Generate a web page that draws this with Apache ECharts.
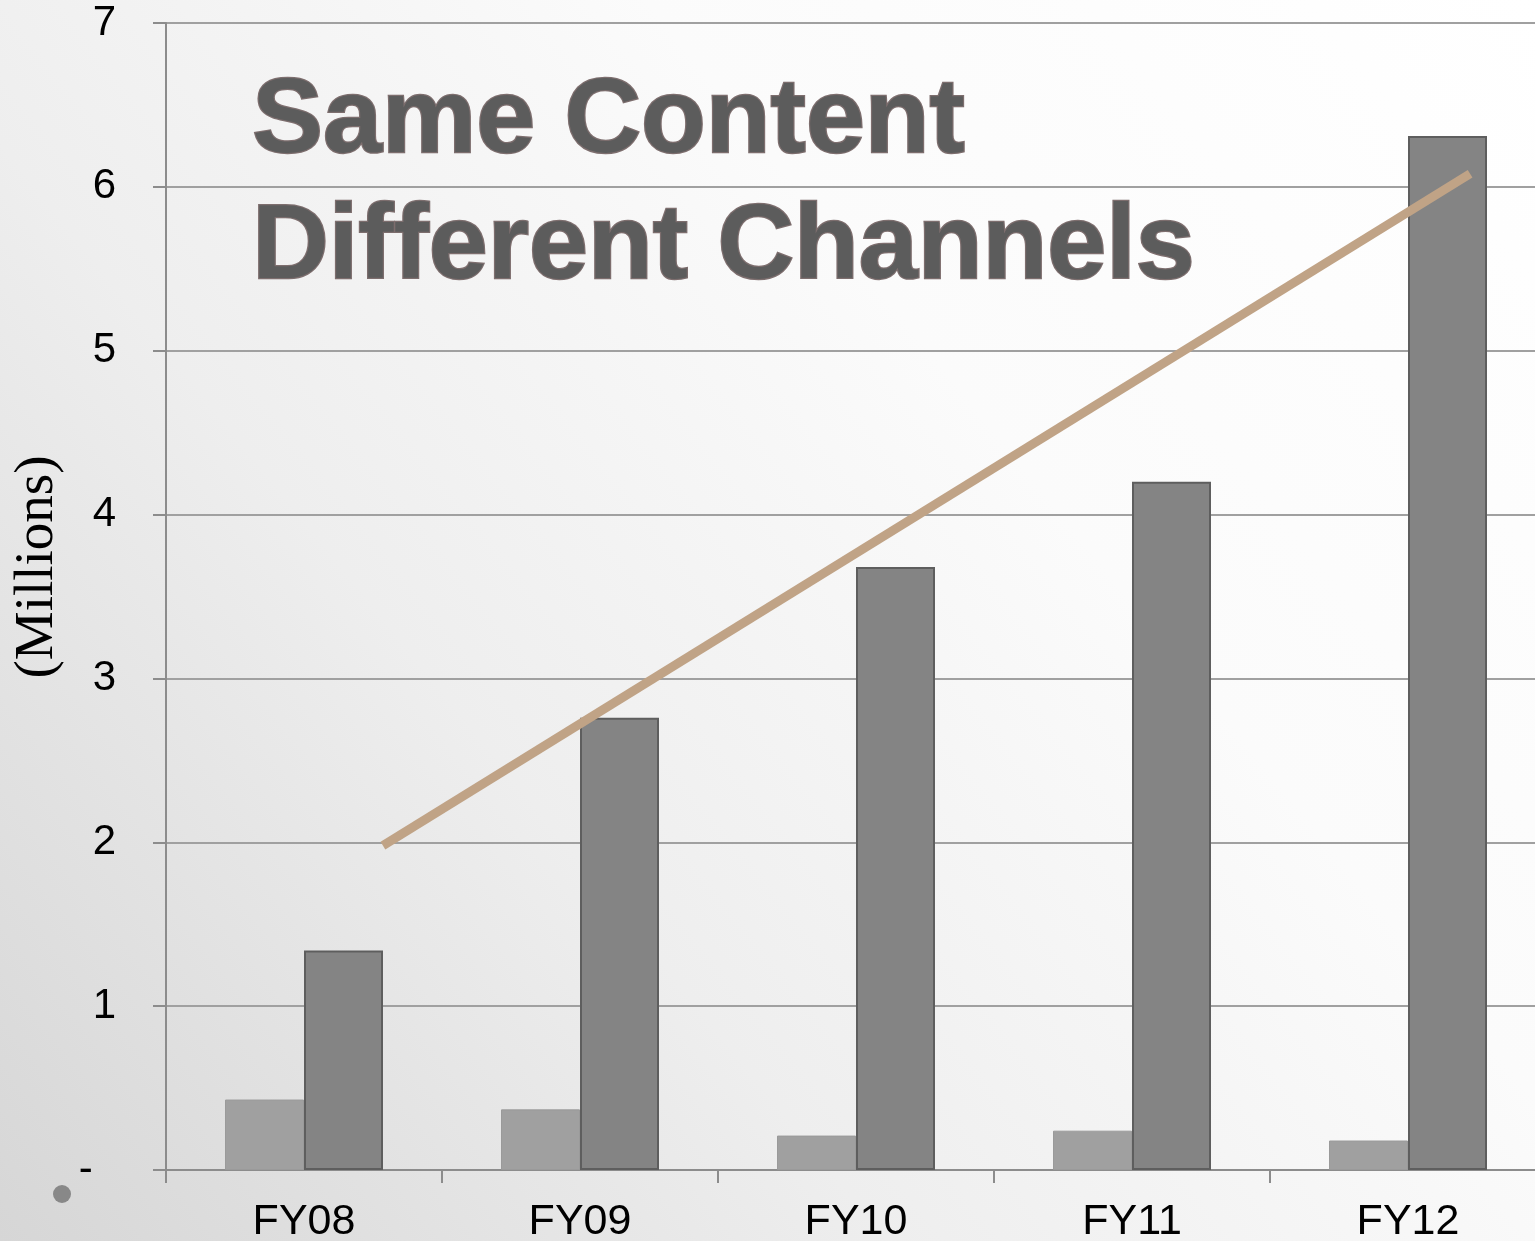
<!DOCTYPE html>
<html>
<head>
<meta charset="utf-8">
<script src="https://cdn.jsdelivr.net/npm/echarts@6/dist/echarts.min.js"></script>
<style>
  html, body { margin: 0; padding: 0; }
  #chart { width: 1535px; height: 1241px; }
</style>
</head>
<body>
<div id="chart"></div>
<script>
const years = ['FY08', 'FY09', 'FY10', 'FY11', 'FY12'];
const lightValues = [0.43, 0.37, 0.21, 0.24, 0.18];
const darkValues = [1.34, 2.76, 3.68, 4.2, 6.31];
// Hand-drawn growth arrow, in category index / millions
const trendPoints = [[0.286, 1.98], [4.225, 6.08]];
const titleLines = ['Same Content', 'Different Channels'];

const chart = echarts.init(document.getElementById('chart'));

const axisGray = '#8c8c8c';
const labelFont = 'Liberation Sans, Arial, sans-serif';

chart.setOption({
  // Slide background: white top-right fading to grey bottom-left
  backgroundColor: {
    type: 'linear',
    x: 1, y: 0, x2: 0, y2: 1,
    colorStops: [
      { offset: 0, color: '#ffffff' },
      { offset: 0.35, color: '#fbfbfb' },
      { offset: 0.65, color: '#eeeeee' },
      { offset: 1, color: '#d6d6d6' }
    ]
  },
  animation: false,
  grid: {
    left: 166,
    top: 23,
    width: 1380,
    bottom: 71,
    outerBoundsMode: 'none'
  },
  xAxis: [
    {
      type: 'category',
      data: years,
      axisLine: { lineStyle: { color: axisGray, width: 2 } },
      axisTick: { show: true, length: 13, lineStyle: { color: axisGray, width: 2 } },
      axisLabel: {
        color: '#000',
        fontSize: 43,
        fontFamily: labelFont,
        margin: 31
      }
    },
    {
      type: 'value',
      min: -0.5,
      max: 4.5,
      show: false,
      splitLine: { show: false }
    }
  ],
  yAxis: {
    type: 'value',
    min: 0,
    max: 7,
    interval: 1,
    axisLine: { show: true, onZero: false, lineStyle: { color: axisGray, width: 2 } },
    axisTick: { show: true, length: 13, lineStyle: { color: axisGray, width: 2 } },
    splitLine: { lineStyle: { color: '#a0a0a0', width: 2 } },
    axisLabel: {
      color: '#000',
      fontSize: 42,
      fontFamily: labelFont,
      margin: 50,
      formatter: (v) => (v === 0 ? '-  ' : String(v))
    }
  },
  series: [
    {
      type: 'bar',
      data: lightValues,
      barWidth: 79,
      barGap: '0%',
      itemStyle: { color: '#a0a0a0', borderColor: '#9a9a9a', borderWidth: 1 }
    },
    {
      type: 'bar',
      data: darkValues,
      barWidth: 79,
      barGap: '0%',
      itemStyle: { color: '#848484', borderColor: '#5e5e5e', borderWidth: 2 }
    },
    {
      type: 'line',
      xAxisIndex: 1,
      data: trendPoints,
      showSymbol: false,
      lineStyle: { color: '#c0a386', width: 9, cap: 'butt' },
      z: 5
    }
  ],
  graphic: [
    {
      type: 'text',
      left: 251,
      top: 60,
      z: 10,
      style: {
        text: titleLines.join('\n'),
        font: 'bold 106px Liberation Sans, Arial, sans-serif',
        lineHeight: 126,
        fill: '#5c5c5c',
        stroke: '#7d6e6e',
        lineWidth: 2.5,
        shadowColor: 'rgba(0,0,0,0.5)',
        shadowBlur: 7,
        shadowOffsetX: 3,
        shadowOffsetY: 5
      }
    },
    {
      type: 'text',
      x: 38,
      y: 567,
      rotation: Math.PI / 2,
      style: {
        text: '(Millions)',
        font: '55px Liberation Serif, Times New Roman, serif',
        fill: '#000',
        align: 'center',
        verticalAlign: 'middle'
      }
    },
    {
      type: 'circle',
      shape: { cx: 62, cy: 1194, r: 9 },
      style: { fill: '#888888' }
    }
  ]
});
</script>
</body>
</html>
